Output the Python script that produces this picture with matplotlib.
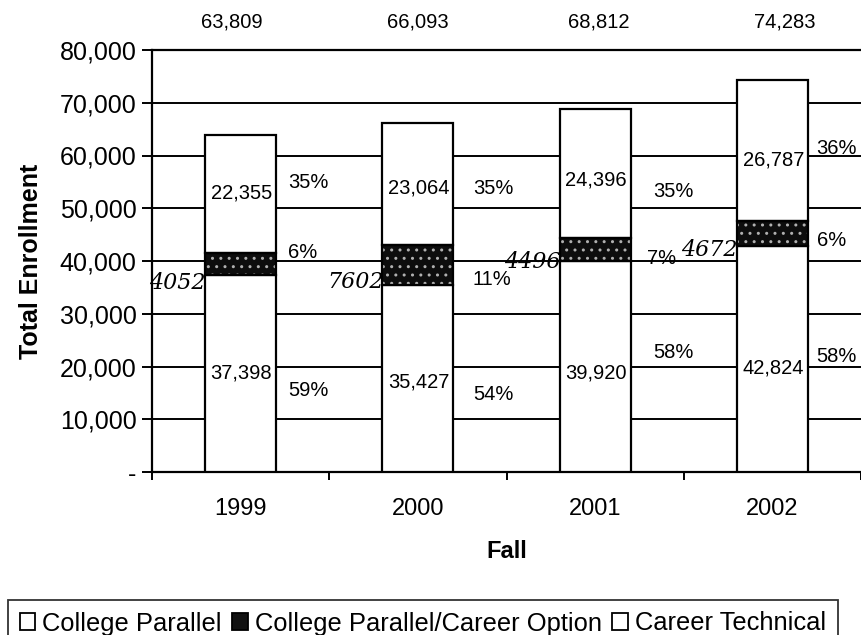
import matplotlib
matplotlib.use("Agg")
import matplotlib.pyplot as plt
import numpy as np
from matplotlib.patches import Patch

plt.rcParams['font.family'] = ['Liberation Sans', 'DejaVu Sans']

years = ["1999", "2000", "2001", "2002"]
college_parallel = [37398, 35427, 39920, 42824]
career_option = [4056, 7602, 4496, 4672]
career_technical = [22355, 23064, 24396, 26787]
totals = [63809, 66093, 68812, 74283]
pct_cp = ["59%", "54%", "58%", "58%"]
pct_co = ["6%", "11%", "7%", "6%"]
pct_ct = ["35%", "35%", "35%", "36%"]
handwritten = ["4052", "7602", "4496", "4672"]
yticks = [0, 10000, 20000, 30000, 40000, 50000, 60000, 70000, 80000]
ytick_labels = ["-", "10,000", "20,000", "30,000", "40,000", "50,000", "60,000", "70,000", "80,000"]

fig = plt.figure(figsize=(8.61, 6.35), dpi=100)
ax = fig.add_axes([152/861, 1-472/635, 1-152/861, (472-50)/635])

x = np.arange(len(years))
w = 0.4
cp = np.array(college_parallel)
co = np.array(career_option)
ct = np.array(career_technical)

ax.bar(x, cp, w, color='white', edgecolor='black', linewidth=1.6, zorder=3)
ax.bar(x, co, w, bottom=cp, color='#0d0d0d', edgecolor='#b0b0b0', hatch='..', linewidth=0, zorder=3)
ax.bar(x, co, w, bottom=cp, fill=False, edgecolor='black', linewidth=1.6, zorder=4)
ax.bar(x, ct, w, bottom=cp+co, color='white', edgecolor='black', linewidth=1.6, zorder=3)

ax.set_ylim(0, 80000)
ax.set_xlim(-0.5, 3.5)
ax.set_yticks(yticks)
ax.set_yticklabels(ytick_labels, fontsize=18)
ax.yaxis.grid(True, color='black', linewidth=1.4, zorder=0)
ax.set_axisbelow(True)
ax.set_xticks(x)
ax.set_xticklabels(years, fontsize=17)
ax.set_xticks(np.arange(-0.5, 4.0, 1.0), minor=True)
ax.tick_params(axis='x', which='major', length=0, pad=19)
ax.tick_params(axis='x', which='minor', length=6, width=1.4, direction='out')
ax.tick_params(axis='y', length=7, width=1.4, direction='out', pad=4)
for s in ['left', 'bottom', 'top']:
    ax.spines[s].set_linewidth(1.6)
ax.spines['right'].set_visible(False)

ax.set_xlabel("Fall", fontsize=17, fontweight='bold', labelpad=14)
ax.set_ylabel("Total Enrollment", fontsize=18, fontweight='bold', labelpad=12)

# label placement offsets (layout only)
cpv_off = [100, -700, -1200, -1700]
ctv_off = [300, -800, -1200, -1800]
cp_off = [-3200, -3100, 2600, 400]
co_off = [2100, -2800, -1600, -1200]
ct_off = [2200, -800, -3500, 500]
px_off = [0.07, 0.11, 0.13, 0.05]
co_px_off = [0.07, 0.11, 0.09, 0.05]
tot_dx = [-0.05, 0.0, 0.02, 0.07]
hw_off = [-3600, -3200, -2400, -3100]

for i in range(len(years)):
    ax.text(x[i] + 0.005, cp[i]/2 + cpv_off[i], f"{cp[i]:,}", fontsize=14.5, ha='center', va='center', zorder=5)
    ax.text(x[i] + 0.005, cp[i] + co[i] + ct[i]/2 + ctv_off[i], f"{ct[i]:,}", fontsize=14.5, ha='center', va='center', zorder=5)
    px = x[i] + w/2 + px_off[i]
    ax.text(px, cp[i]/2 + cp_off[i], pct_cp[i], fontsize=14.5, ha='left', va='center', zorder=5)
    ax.text(x[i] + w/2 + co_px_off[i], cp[i] + co[i]/2 + co_off[i], pct_co[i], fontsize=14.5,
            ha='left', va='center', zorder=5)
    ax.text(px, cp[i] + co[i] + ct[i]/2 + ct_off[i], pct_ct[i], fontsize=14.5, ha='left', va='center', zorder=5)
    ax.annotate(f"{totals[i]:,}", xy=(x[i] + tot_dx[i], 1.0), xycoords=ax.get_xaxis_transform(),
                xytext=(0, 13), textcoords='offset points',
                fontsize=14.5, ha='center', va='bottom', zorder=5, annotation_clip=False)
    ax.text(x[i] - w/2 + 0.005, cp[i] + co[i]/2 + hw_off[i], handwritten[i], fontsize=16,
            family='DejaVu Serif', style='italic', ha='right', va='center', zorder=6, clip_on=False)

handles = [Patch(facecolor='white', edgecolor='black', linewidth=1.3),
           Patch(facecolor='#111111', edgecolor='black', linewidth=1.3),
           Patch(facecolor='white', edgecolor='black', linewidth=1.3)]
labels = ["College Parallel", "College Parallel/Career Option", "Career Technical"]
leg = fig.legend(handles, labels, loc='upper left', bbox_to_anchor=(8/861, 1-600/635),
                 ncol=3, fontsize=18.4, frameon=True, fancybox=False, handlelength=0.6,
                 handleheight=0.6, handletextpad=0.3, columnspacing=0.4, borderpad=0.45,
                 borderaxespad=0, edgecolor='black')
leg.get_frame().set_linewidth(1.3)

fig.savefig("out.png", dpi=100)
